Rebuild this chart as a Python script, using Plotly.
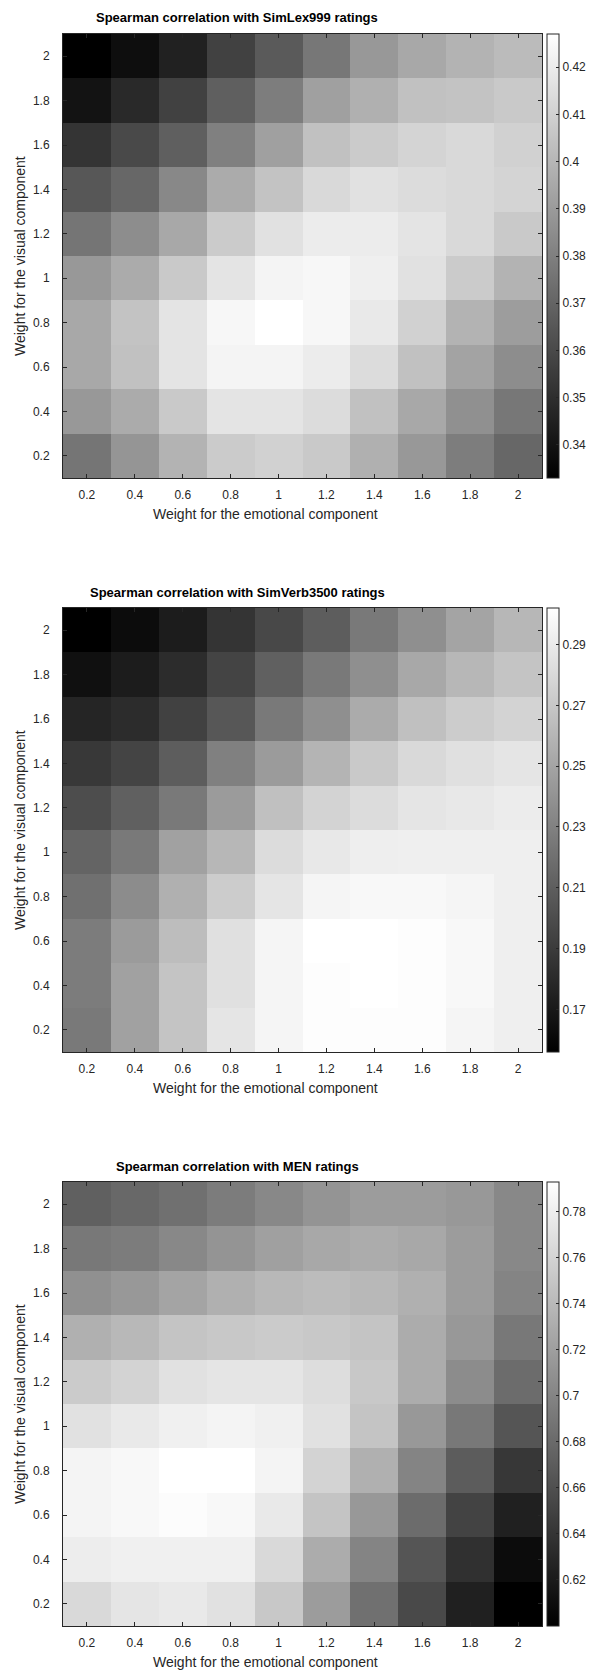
import plotly.graph_objects as go

# ---------------- data ----------------
weights_emotional = [0.2, 0.4, 0.6, 0.8, 1.0, 1.2, 1.4, 1.6, 1.8, 2.0]
weights_visual = [0.2, 0.4, 0.6, 0.8, 1.0, 1.2, 1.4, 1.6, 1.8, 2.0]
axis_tick_labels = ["0.2", "0.4", "0.6", "0.8", "1", "1.2", "1.4", "1.6", "1.8", "2"]

titles = [
    "Spearman correlation with SimLex999 ratings",
    "Spearman correlation with SimVerb3500 ratings",
    "Spearman correlation with MEN ratings",
]

# rows: visual weight 0.2 (first) ... 2.0 (last); columns: emotional weight 0.2 ... 2.0
simlex = [
    [0.376, 0.388, 0.399, 0.408, 0.410, 0.407, 0.398, 0.389, 0.379, 0.371],
    [0.389, 0.396, 0.407, 0.417, 0.417, 0.414, 0.404, 0.395, 0.386, 0.377],
    [0.395, 0.404, 0.417, 0.423, 0.423, 0.420, 0.414, 0.404, 0.393, 0.385],
    [0.395, 0.405, 0.417, 0.424, 0.427, 0.424, 0.419, 0.410, 0.399, 0.391],
    [0.389, 0.396, 0.407, 0.417, 0.423, 0.424, 0.421, 0.416, 0.408, 0.399],
    [0.376, 0.385, 0.395, 0.408, 0.416, 0.420, 0.420, 0.417, 0.413, 0.407],
    [0.365, 0.371, 0.383, 0.396, 0.405, 0.413, 0.416, 0.414, 0.413, 0.411],
    [0.352, 0.360, 0.368, 0.380, 0.392, 0.404, 0.408, 0.411, 0.413, 0.410],
    [0.340, 0.348, 0.357, 0.368, 0.379, 0.392, 0.398, 0.404, 0.405, 0.407],
    [0.333, 0.338, 0.345, 0.357, 0.366, 0.377, 0.389, 0.395, 0.399, 0.402],
]

simverb = [
    [0.225, 0.248, 0.268, 0.287, 0.296, 0.301, 0.301, 0.301, 0.296, 0.293],
    [0.227, 0.248, 0.268, 0.284, 0.296, 0.301, 0.302, 0.301, 0.298, 0.293],
    [0.227, 0.245, 0.264, 0.284, 0.296, 0.302, 0.302, 0.301, 0.298, 0.293],
    [0.220, 0.236, 0.257, 0.273, 0.287, 0.296, 0.298, 0.298, 0.296, 0.293],
    [0.213, 0.225, 0.248, 0.261, 0.282, 0.289, 0.292, 0.293, 0.293, 0.293],
    [0.200, 0.211, 0.225, 0.245, 0.266, 0.277, 0.282, 0.287, 0.289, 0.291],
    [0.188, 0.195, 0.209, 0.229, 0.245, 0.259, 0.271, 0.280, 0.284, 0.287],
    [0.177, 0.181, 0.193, 0.206, 0.225, 0.238, 0.254, 0.266, 0.273, 0.277],
    [0.165, 0.172, 0.181, 0.195, 0.211, 0.225, 0.238, 0.252, 0.261, 0.268],
    [0.156, 0.163, 0.172, 0.186, 0.197, 0.209, 0.225, 0.238, 0.250, 0.261],
]

men = [
    [0.764, 0.773, 0.776, 0.770, 0.751, 0.718, 0.685, 0.655, 0.624, 0.600],
    [0.779, 0.782, 0.782, 0.782, 0.764, 0.730, 0.700, 0.664, 0.636, 0.609],
    [0.785, 0.788, 0.791, 0.788, 0.776, 0.748, 0.715, 0.682, 0.651, 0.624],
    [0.785, 0.788, 0.793, 0.793, 0.785, 0.760, 0.733, 0.700, 0.670, 0.642],
    [0.770, 0.776, 0.782, 0.785, 0.782, 0.770, 0.748, 0.715, 0.691, 0.664],
    [0.754, 0.760, 0.770, 0.773, 0.773, 0.767, 0.751, 0.730, 0.706, 0.682],
    [0.733, 0.739, 0.748, 0.751, 0.754, 0.751, 0.748, 0.730, 0.715, 0.691],
    [0.709, 0.715, 0.724, 0.733, 0.739, 0.742, 0.739, 0.733, 0.718, 0.700],
    [0.691, 0.694, 0.703, 0.712, 0.721, 0.727, 0.730, 0.727, 0.718, 0.703],
    [0.673, 0.679, 0.685, 0.694, 0.703, 0.712, 0.718, 0.718, 0.715, 0.703],
]

cbar_ticks_simlex = [0.34, 0.35, 0.36, 0.37, 0.38, 0.39, 0.40, 0.41, 0.42]
cbar_labels_simlex = ["0.34", "0.35", "0.36", "0.37", "0.38", "0.39", "0.4", "0.41", "0.42"]
cbar_ticks_simverb = [0.17, 0.19, 0.21, 0.23, 0.25, 0.27, 0.29]
cbar_labels_simverb = ["0.17", "0.19", "0.21", "0.23", "0.25", "0.27", "0.29"]
cbar_ticks_men = [0.62, 0.64, 0.66, 0.68, 0.70, 0.72, 0.74, 0.76, 0.78]
cbar_labels_men = ["0.62", "0.64", "0.66", "0.68", "0.7", "0.72", "0.74", "0.76", "0.78"]

xlabel = "Weight for the emotional component"
ylabel = "Weight for the visual component"

# ---------------- layout geometry (page pixels) ----------------
W, H = 590, 1673
P_LEFT, P_RIGHT = 63, 542
panel_tops = [34, 608, 1182]
panel_h = 444

ML = P_LEFT
MR = W - P_RIGHT
MT = panel_tops[0]
MB = H - (panel_tops[-1] + panel_h)
PW = W - ML - MR
PH = H - MT - MB


def px_x(xp):
    return (xp - ML) / PW


def px_y(yp):
    return 1 - (yp - MT) / PH


FONT = "Liberation Sans, Arial, sans-serif"
TXT = "#262626"
gray = [[0, "black"], [1, "white"]]

datasets = [
    (simlex, cbar_ticks_simlex, cbar_labels_simlex),
    (simverb, cbar_ticks_simverb, cbar_labels_simverb),
    (men, cbar_ticks_men, cbar_labels_men),
]

fig = go.Figure()
annotations = []
layout_axes = {}

for i, (z, ctv, ctt) in enumerate(datasets):
    top = panel_tops[i]
    bot = top + panel_h
    d0 = px_y(bot)
    d1 = px_y(top)
    xa = "x" if i == 0 else f"x{i+1}"
    ya = "y" if i == 0 else f"y{i+1}"
    zmin = min(min(r) for r in z)
    zmax = max(max(r) for r in z)
    fig.add_trace(go.Heatmap(
        x=weights_emotional, y=weights_visual, z=z,
        colorscale=gray, zmin=zmin, zmax=zmax,
        xaxis=xa, yaxis=ya,
        colorbar=dict(
            x=px_x(547), xanchor="left", xpad=0,
            y=(d0 + d1) / 2, yanchor="middle", len=d1 - d0, lenmode="fraction",
            ypad=0,
            thickness=12, thicknessmode="pixels",
            outlinewidth=1, outlinecolor=TXT,
            tickvals=ctv, ticktext=ctt,
            ticks="inside", ticklen=3, tickcolor=TXT,
            tickfont=dict(family=FONT, size=12, color=TXT),
        ),
    ))
    axcommon = dict(
        range=[0.1, 2.1], tickvals=weights_emotional, ticktext=axis_tick_labels,
        ticks="inside", ticklen=4, tickcolor=TXT, tickwidth=1,
        showline=True, linecolor=TXT, linewidth=1, mirror="ticks",
        showgrid=False, zeroline=False,
        tickfont=dict(family=FONT, size=12, color=TXT),
    )
    layout_axes["xaxis" if i == 0 else f"xaxis{i+1}"] = dict(
        axcommon, domain=[0, 1], anchor=ya, ticklabelstandoff=6)
    layout_axes["yaxis" if i == 0 else f"yaxis{i+1}"] = dict(
        axcommon, domain=[d0, d1], anchor=xa, ticklabelstandoff=10)

    # panel title
    annotations.append(dict(
        text="<b>" + titles[i] + "</b>", xref="paper", yref="paper",
        x=px_x(237), y=px_y(top - 16),
        xanchor="center", yanchor="middle", showarrow=False,
        font=dict(family=FONT, size=13, color="black"),
    ))
    # x axis title
    annotations.append(dict(
        text=xlabel, xref="paper", yref="paper",
        x=px_x(265), y=px_y(bot + 36),
        xanchor="center", yanchor="middle", showarrow=False,
        font=dict(family=FONT, size=14, color=TXT),
    ))
    # y axis title
    annotations.append(dict(
        text=ylabel, xref="paper", yref="paper",
        x=px_x(20), y=px_y(top + panel_h / 2),
        xanchor="center", yanchor="middle", showarrow=False, textangle=-90,
        font=dict(family=FONT, size=14, color=TXT),
    ))

fig.update_layout(
    width=W, height=H,
    margin=dict(l=ML, r=MR, t=MT, b=MB, autoexpand=False),
    paper_bgcolor="white", plot_bgcolor="white",
    showlegend=False,
    annotations=annotations,
    **layout_axes,
)

fig.write_html(
    "out.html",
    config={"displayModeBar": False},
    post_script="document.body.style.margin='0';document.body.style.overflow='hidden';",
)
